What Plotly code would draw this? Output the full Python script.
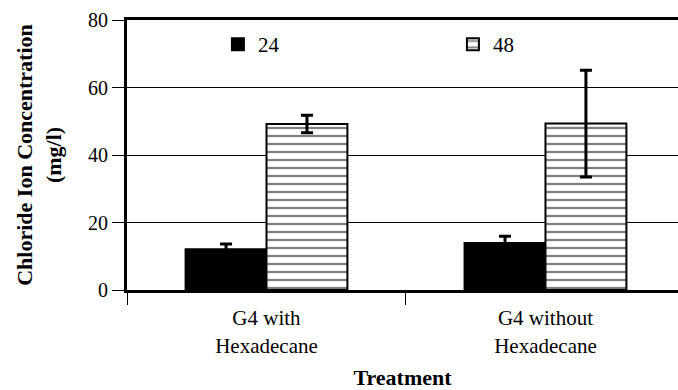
import plotly.graph_objects as go

categories = ["G4 with<br>Hexadecane", "G4 without<br>Hexadecane"]
series_names = ["24", "48"]
values_24 = [12.1, 13.9]
errors_24 = [1.5, 2.0]
values_48 = [49.2, 49.3]
errors_48 = [2.6, 15.8]
y_ticks = [0, 20, 40, 60, 80]

FONT = "Times New Roman, Liberation Serif, DejaVu Serif, serif"

fig = go.Figure()
fig.add_trace(go.Bar(
    name=series_names[0], x=categories, y=values_24,
    marker=dict(color="black", line=dict(color="black", width=2)),
    error_y=dict(type="data", array=errors_24, color="black", thickness=3, width=6, visible=True),
))
fig.add_trace(go.Bar(
    name=series_names[1], x=categories, y=values_48,
    marker=dict(color="white", line=dict(color="black", width=2),
                pattern=dict(shape="-", fgcolor="black", bgcolor="white", size=8, solidity=0.28, fillmode="overlay")),
    error_y=dict(type="data", array=errors_48, color="black", thickness=3, width=6, visible=True),
))

fig.update_layout(
    width=678, height=390,
    margin=dict(l=127, r=0, t=20, b=100, autoexpand=False),
    paper_bgcolor="white", plot_bgcolor="white",
    barmode="group", bargap=0.42, bargroupgap=0,
    font=dict(family=FONT, color="black", size=20),
    showlegend=True,
    legend=dict(orientation="h", x=0.165, y=0.985, xanchor="left", yanchor="top",
                entrywidth=190, entrywidthmode="pixels",
                font=dict(family=FONT, size=21), bgcolor="rgba(0,0,0,0)",
                traceorder="normal"),
)
fig.update_xaxes(
    type="category", range=[-0.5, 1.475], automargin=False,
    showline=True, linecolor="black", linewidth=3, mirror=True,
    ticks="outside", tickson="boundaries", ticklen=12, tickwidth=1, tickcolor="black",
    tickfont=dict(family=FONT, size=21), ticklabelstandoff=7,
    title=dict(text="<b>Treatment</b>", font=dict(family=FONT, size=22), standoff=16),
    showgrid=False,
)
fig.update_yaxes(
    range=[0, 80], tickvals=y_ticks, automargin=False,
    showline=True, linecolor="black", linewidth=3,
    ticks="outside", ticklen=12, tickwidth=1, tickcolor="black",
    tickfont=dict(family=FONT, size=20),
    showgrid=True, gridcolor="black", gridwidth=1,
    zeroline=False,
    title=dict(text="<b>Chloride Ion Concentration<br>(mg/l)</b>", font=dict(family=FONT, size=22), standoff=21),
)

fig.write_html("out.html")
